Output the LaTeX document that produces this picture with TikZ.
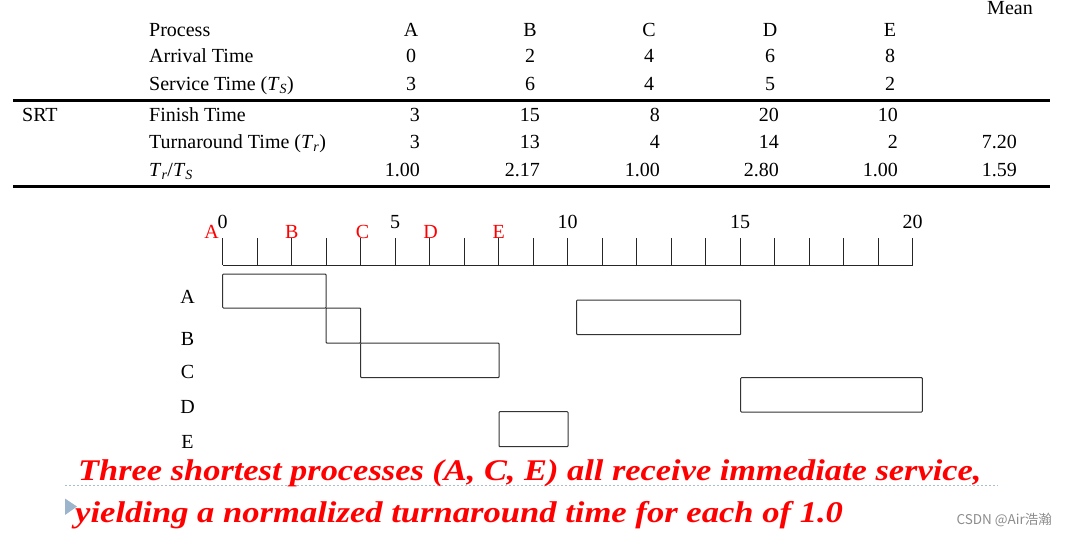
\documentclass[tikz,border=0pt]{standalone}
\usepackage{fontspec}
\setmainfont{Liberation Serif}
\newfontfamily\cjkfont{Noto Sans CJK SC}
\begin{document}
\begin{tikzpicture}[x=1pt,y=-1pt,
  txt/.style={font=\fontsize{20}{24}\selectfont, inner sep=0pt, anchor=base},
  lbl/.style={txt, anchor=base west},
  num/.style={txt, anchor=base east},
  redl/.style={txt, text=red},
  rule/.style={line width=#1, black},
  tick/.style={line width=1pt, black!85},
  gbox/.style={line width=1pt, black!80, rounded corners=0.8pt},
  msg/.style={font=\fontsize{30}{36}\selectfont\bfseries\itshape, text=red, inner sep=0pt, anchor=base west}]
\useasboundingbox (0,0) rectangle (1067,535);

% ---- table ----
\node[txt] (mean) at (1010,14.5) {Mean};
\node[lbl] (hProc) at (149,37) {Process};
\node[lbl] (hArr) at (149,63) {Arrival Time};
\node[lbl] (hSer) at (149,90) {Service Time (\textit{T}\textsubscript{\textit{S}})};
\node[lbl] (srt) at (22,121) {SRT};
\node[lbl] (hFin) at (149,121) {Finish Time};
\node[lbl] (hTur) at (149,148) {Turnaround Time (\textit{T}\textsubscript{\textit{r}})};
\node[lbl] (hRat) at (149,176) {\textit{T}\textsubscript{\textit{r}}/\textit{T}\textsubscript{\textit{S}}};

\foreach \n/\x/\a/\s in {A/411/0/3, B/530/2/6, C/649/4/4, D/770/6/5, E/890/8/2}{
  \node[txt] (p\n) at (\x,37) {\n};
  \node[txt] (a\n) at (\x,63) {\a};
  \node[txt] (s\n) at (\x,90) {\s};
}
\foreach \n/\x/\f/\t/\r in {A/420/3/3/1.00, B/540/15/13/2.17, C/660/8/4/1.00, D/779/20/14/2.80, E/898/10/2/1.00}{
  \node[num] (f\n) at (\x,121) {\f};
  \node[num] (t\n) at (\x,148) {\t};
  \node[num] (r\n) at (\x,176) {\r};
}
\node[num] (tM) at (1017,148) {7.20};
\node[num] (rM) at (1017,176) {1.59};

\draw[rule=3pt] (13,100) -- (1050,100);
\draw[rule=2.5pt] (13,186.5) -- (1050,186.5);

% ---- time axis ----
\draw[tick] (222.7,265) -- (912.7,265);
\foreach \i in {0,...,20}{
  \draw[tick] ({222.7+34.5*\i},238) -- ({222.7+34.5*\i},265);
}
\foreach \i in {0,5,10,15,20}{
  \node[txt] (n\i) at ({222.7+34.5*\i},228) {\i};
}
\node[redl, anchor=base east] (rA) at (219,238) {A};
\node[redl] (rB) at (291.7,238) {B};
\node[redl] (rC) at (362.5,238) {C};
\node[redl] (rD) at (430.5,238) {D};
\node[redl] (rE) at (498.7,238) {E};

% ---- row labels ----
\node[txt] (yA) at (187.5,303) {A};
\node[txt] (yB) at (187.5,345) {B};
\node[txt] (yC) at (187.5,378) {C};
\node[txt] (yD) at (187.5,413) {D};
\node[txt] (yE) at (187.5,448) {E};

% ---- gantt boxes ----
\draw[gbox] (222.7,274) rectangle (326,308);
\draw[gbox] (326,308) rectangle (360.7,343);
\draw[gbox] (576.7,300) rectangle (740.7,334.7);
\draw[gbox] (360.7,343) rectangle (499,377.7);
\draw[gbox] (740.7,377.7) rectangle (922.3,412);
\draw[gbox] (499,411.7) rectangle (568,446.7);

% ---- message ----
\draw[color={rgb,255:red,170;green,190;blue,210}, line width=1pt, dash pattern=on 2pt off 2pt] (65,485) -- (998,485);
\fill[color={rgb,255:red,157;green,181;blue,204}] (65,498.5) -- (77,506.5) -- (65,515) -- cycle;
\node[msg] (m1) at (78,480) {\scalebox{1.146}[1]{Three shortest processes (A, C, E) all receive immediate service,}};
\node[msg] (m2) at (75,522) {\scalebox{1.153}[1]{yielding a normalized turnaround time for each of 1.0}};

\node[font=\cjkfont\fontsize{13.5}{15}\selectfont, text=black!45, inner sep=0pt, anchor=east] (wm) at (1052,520) {CSDN @Air浩瀚};
\end{tikzpicture}
\end{document}
